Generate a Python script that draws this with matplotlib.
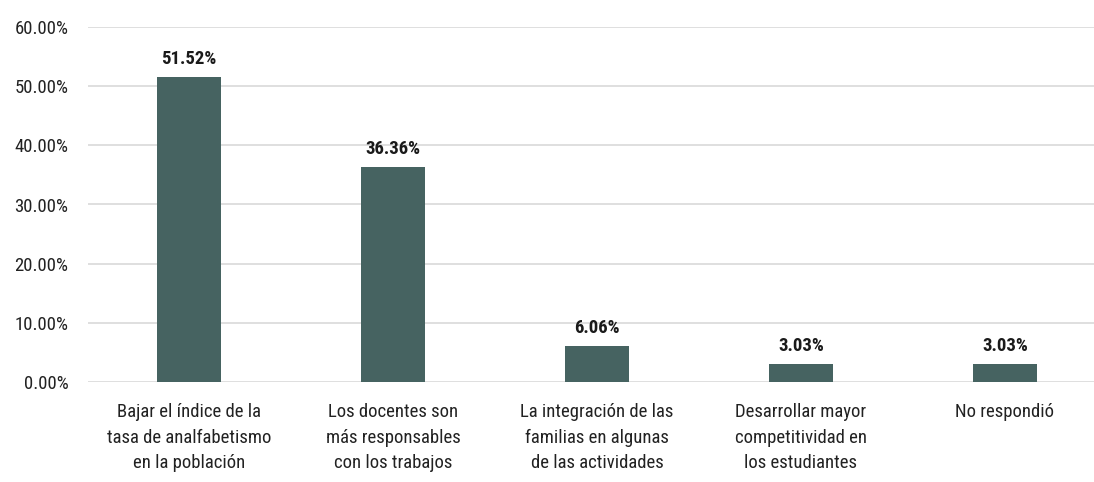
import matplotlib.pyplot as plt
from matplotlib import font_manager
from matplotlib.ticker import FuncFormatter

installed = {f.name for f in font_manager.fontManager.ttflist}
narrow = [n for n in ["Roboto Condensed", "DejaVu Sans Condensed", "Liberation Sans Narrow",
                      "Open Sans Condensed", "Noto Sans Condensed"] if n in installed]
if narrow:
    plt.rcParams['font.family'] = [narrow[0], 'DejaVu Sans']
    fs = 13.5
else:
    plt.rcParams['font.family'] = ['Roboto', 'DejaVu Sans']
    fs = 11.5

categories = [
    "Bajar el índice de la\ntasa de analfabetismo\nen la población",
    "Los docentes son\nmás responsables\ncon los trabajos",
    "La integración de las\nfamilias en algunas\nde las actividades",
    "Desarrollar mayor\ncompetitividad en\nlos estudiantes",
    "No respondió",
]
values = [51.52, 36.36, 6.06, 3.03, 3.03]
yticks = [0, 10, 20, 30, 40, 50, 60]

fig = plt.figure(figsize=(10.94, 4.82), dpi=100)
ax = fig.add_axes([88 / 1094, 100 / 482, 1006 / 1094, 355 / 482])

x = range(len(categories))
ax.bar(x, values, width=64 / 204, color="#466361", zorder=3)
for i, v in enumerate(values):
    ax.text(i, v + 1.5, f"{v:.2f}%", ha="center", va="bottom",
            fontsize=fs, fontweight="bold", color="#1a1a1a")

ax.set_xlim(-101 / 204, 905 / 204)
ax.set_ylim(0, 60)
ax.set_yticks(yticks)
ax.yaxis.set_major_formatter(FuncFormatter(lambda v, p: f"{v:.2f}%"))
ax.set_xticks(list(x))
ax.set_xticklabels(categories, fontsize=fs, color="#222222", linespacing=1.55)
ax.tick_params(axis="y", labelsize=fs, colors="#222222", length=0, pad=14)
ax.tick_params(axis="x", length=0, pad=15)
ax.grid(axis="y", color="#d9d9d9", linewidth=1.2, zorder=0)
for s in ax.spines.values():
    s.set_visible(False)

fig.savefig("out.png", dpi=100)
